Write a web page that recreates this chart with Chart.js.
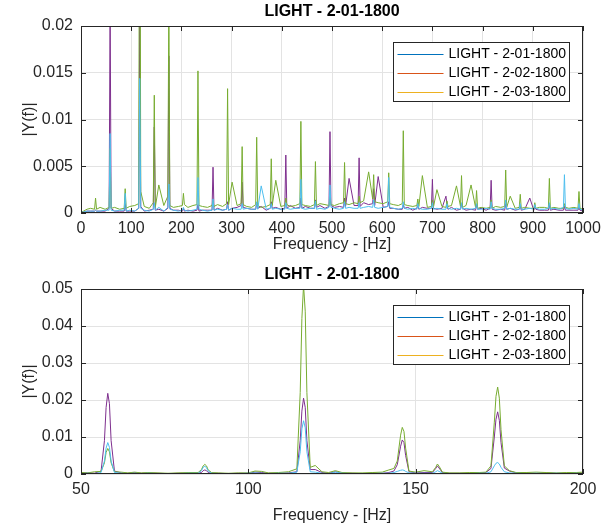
<!DOCTYPE html>
<html>
<head>
<meta charset="utf-8">
<script src="https://cdn.jsdelivr.net/npm/chart.js@4.4.1/dist/chart.umd.min.js"></script>
<style>
  body { margin: 0; background: #fff; }
  canvas { display: block; }
</style>
</head>
<body>
<canvas id="fullSpectrum" width="608" height="263"></canvas>
<canvas id="zoomSpectrum" width="608" height="264"></canvas>
<script>
// spectra of the three LIGHT recordings, 0 - 1000 Hz
const freqTop = [
  0, 5, 12, 19,
  27, 29, 31, 38, 48,  56, 58, 60, 67, 77,  86, 88, 90, 97, 107,
  115, 117, 119, 126, 136,  144, 146, 148, 155, 165,  173, 175, 177, 184, 194,
  202, 204, 206, 213, 223,  231, 233, 235, 242, 252,  261, 263, 265, 272, 282,
  290, 292, 294, 301, 311,  319, 321, 323, 330, 340,  348, 350, 352, 359, 369,
  377, 379, 381, 388, 398,  406, 408, 410, 417, 427,  436, 438, 440, 447, 457,
  465, 467, 469, 476, 486,  494, 496, 498, 505, 515,  523, 525, 527, 534, 544,
  552, 554, 556, 563, 573,  581, 583, 585, 592, 602,  611, 613, 615, 622, 632,
  640, 642, 644, 651, 661,  669, 671, 673, 680, 690,  698, 700, 702, 709, 719,
  727, 729, 731, 738, 748,  756, 758, 760, 767, 777,  786, 788, 790, 797, 807,
  815, 817, 819, 826, 836,  844, 846, 848, 855, 865,  873, 875, 877, 884, 894,
  902, 904, 906, 913, 923,  931, 933, 935, 942, 952,  961, 963, 965, 972, 982,
  990, 992, 994, 1000
];
const light01Top = [
  0.0001, 0.0001, 0.0002, 0.0002,
  0.0002, 0.0003, 0.0002, 0.0002, 0.0002,  0.0005, 0.022, 0.0005, 0.0002, 0.0002,  0.0002, 0.0010, 0.0002, 0.0002, 0.0002,
  0.0005, 0.0205, 0.0007, 0.0002, 0.0003,  0.0004, 0.0092, 0.0003, 0.0004, 0.0002,  0.0005, 0.0168, 0.0005, 0.0003, 0.0003,
  0.0002, 0.0005, 0.0002, 0.0003, 0.0002,  0.0003, 0.0009, 0.0002, 0.0003, 0.0003,  0.0003, 0.0049, 0.0003, 0.0005, 0.0003,
  0.0004, 0.0012, 0.0003, 0.0005, 0.0006,  0.0008, 0.0033, 0.0006, 0.0005, 0.0004,  0.0004, 0.0011, 0.0005, 0.0007, 0.0003,
  0.0005, 0.0012, 0.0005, 0.0006, 0.0004,  0.0005, 0.0062, 0.0005, 0.0008, 0.0005,  0.0006, 0.0016, 0.0005, 0.0007, 0.0005,
  0.0005, 0.0014, 0.0006, 0.0008, 0.0005,  0.0007, 0.0087, 0.0008, 0.0006, 0.0007,  0.0006, 0.0016, 0.0007, 0.0037, 0.0008,
  0.0008, 0.0059, 0.0007, 0.0011, 0.0009,  0.0010, 0.0026, 0.0008, 0.0039, 0.0006,  0.0007, 0.0012, 0.0005, 0.0005, 0.0004,
  0.0004, 0.0009, 0.0005, 0.0006, 0.0003,  0.0005, 0.0010, 0.0004, 0.0006, 0.0005,  0.0005, 0.0036, 0.0005, 0.0004, 0.0005,
  0.0018, 0.0009, 0.0004, 0.0006, 0.0003,  0.0004, 0.0010, 0.0005, 0.0003, 0.0004,  0.0003, 0.0009, 0.0004, 0.0005, 0.0003,
  0.0005, 0.0035, 0.0004, 0.0003, 0.0004,  0.0003, 0.0010, 0.0004, 0.0005, 0.0003,  0.0004, 0.0008, 0.0003, 0.0004, 0.0016,
  0.0003, 0.0007, 0.0004, 0.0003, 0.0003,  0.0003, 0.0009, 0.0003, 0.0004, 0.0003,  0.0003, 0.0007, 0.0003, 0.0003, 0.0003,
  0.0003, 0.0006, 0.0003, 0.0002
];
const light02Top = [
  0.0001, 0.0002, 0.0004, 0.0005,
  0.0004, 0.0016, 0.0004, 0.0006, 0.0004,  0.0006, 0.0069, 0.0005, 0.0006, 0.0004,  0.0005, 0.0026, 0.0005, 0.0007, 0.0008,
  0.0010, 0.051, 0.0023, 0.0007, 0.0005,  0.0011, 0.0126, 0.0006, 0.0030, 0.0008,  0.0018, 0.0235, 0.0008, 0.0006, 0.0007,
  0.0008, 0.0021, 0.0009, 0.0006, 0.0008,  0.0009, 0.0152, 0.0008, 0.0007, 0.0006,  0.0008, 0.0013, 0.0007, 0.0009, 0.0007,
  0.0010, 0.0133, 0.0009, 0.0033, 0.0008,  0.0010, 0.0071, 0.0009, 0.0007, 0.0006,  0.0009, 0.0081, 0.0008, 0.0006, 0.0007,
  0.0009, 0.0058, 0.0008, 0.0035, 0.0007,  0.0008, 0.0016, 0.0009, 0.0007, 0.0008,  0.0010, 0.0098, 0.0009, 0.0008, 0.0007,
  0.0009, 0.0055, 0.0008, 0.0010, 0.0009,  0.0008, 0.0017, 0.0009, 0.0008, 0.0010,  0.0011, 0.0054, 0.0010, 0.0009, 0.0011,
  0.0010, 0.0018, 0.0011, 0.0013, 0.0044,  0.0015, 0.0041, 0.0012, 0.0011, 0.0010,  0.0012, 0.0043, 0.0010, 0.0009, 0.0008,
  0.0010, 0.0088, 0.0009, 0.0008, 0.0007,  0.0008, 0.0015, 0.0007, 0.0040, 0.0006,  0.0007, 0.0014, 0.0006, 0.0025, 0.0007,
  0.0006, 0.0013, 0.0007, 0.0008, 0.0029,  0.0007, 0.0040, 0.0006, 0.0008, 0.0030,  0.0006, 0.0024, 0.0005, 0.0006, 0.0005,
  0.0006, 0.0014, 0.0005, 0.0007, 0.0006,  0.0007, 0.0046, 0.0006, 0.0018, 0.0005,  0.0006, 0.0020, 0.0005, 0.0006, 0.0005,
  0.0005, 0.0011, 0.0005, 0.0006, 0.0006,  0.0005, 0.0037, 0.0005, 0.0006, 0.0005,  0.0005, 0.0010, 0.0006, 0.0005, 0.0006,
  0.0005, 0.0023, 0.0005, 0.0004
];
const light03Top = [
  0.0001, 0.0001, 0.0002, 0.0002,
  0.0002, 0.0003, 0.0002, 0.0002, 0.0003,  0.0003, 0.0085, 0.0003, 0.0002, 0.0003,  0.0003, 0.0021, 0.0002, 0.0003, 0.0002,
  0.0005, 0.0144, 0.0005, 0.0003, 0.0002,  0.0004, 0.0011, 0.0003, 0.0006, 0.0002,  0.0006, 0.0031, 0.0004, 0.0003, 0.0002,
  0.0003, 0.0006, 0.0003, 0.0002, 0.0003,  0.0004, 0.0038, 0.0004, 0.0003, 0.0002,  0.0003, 0.0015, 0.0003, 0.0004, 0.0003,
  0.0004, 0.0009, 0.0003, 0.0005, 0.0004,  0.0004, 0.0010, 0.0004, 0.0005, 0.0004,  0.0004, 0.0012, 0.0004, 0.0029, 0.0004,
  0.0005, 0.0010, 0.0004, 0.0005, 0.0004,  0.0004, 0.0011, 0.0005, 0.0004, 0.0005,  0.0005, 0.0036, 0.0005, 0.0004, 0.0005,
  0.0005, 0.0013, 0.0004, 0.0005, 0.0004,  0.0006, 0.0030, 0.0006, 0.0005, 0.0004,  0.0005, 0.0012, 0.0005, 0.0006, 0.0005,
  0.0005, 0.0011, 0.0005, 0.0006, 0.0007,  0.0006, 0.0014, 0.0006, 0.0005, 0.0006,  0.0007, 0.0038, 0.0006, 0.0005, 0.0004,
  0.0005, 0.0012, 0.0005, 0.0004, 0.0005,  0.0004, 0.0010, 0.0005, 0.0004, 0.0004,  0.0005, 0.0011, 0.0004, 0.0005, 0.0004,
  0.0004, 0.0010, 0.0005, 0.0004, 0.0005,  0.0004, 0.0011, 0.0004, 0.0005, 0.0004,  0.0005, 0.0010, 0.0004, 0.0004, 0.0005,
  0.0004, 0.0012, 0.0005, 0.0004, 0.0004,  0.0005, 0.0014, 0.0004, 0.0005, 0.0004,  0.0004, 0.0010, 0.0004, 0.0004, 0.0005,
  0.0004, 0.0009, 0.0005, 0.0004, 0.0004,  0.0005, 0.0011, 0.0004, 0.0005, 0.0004,  0.0006, 0.0041, 0.0005, 0.0004, 0.0005,
  0.0004, 0.0010, 0.0004, 0.0003
];

// same recordings, 50 - 200 Hz
const freqZoom = [
  50, 52, 54, 56, 57, 57.5, 58, 58.5, 59, 60, 62, 64, 66, 68, 70, 73, 76, 79, 82, 85,
  86, 86.5, 87, 87.5, 88, 89, 91, 94, 97, 100, 102, 104, 106, 109, 112,
  114.5, 115.5, 116, 116.5, 117, 117.5, 118.5, 120, 122, 124, 126, 128, 131, 134, 137, 140, 142,
  143.5, 144.5, 145.5, 146, 146.5, 147, 148, 150, 152.5, 155, 156, 156.5, 157, 158, 160, 163, 166, 169, 171,
  172.5, 173.5, 174, 174.5, 175, 175.5, 176.5, 178, 180, 183, 186, 189, 192, 195, 198, 200
];
const light01Zoom = [
  0.0002, 0.0003, 0.0002, 0.0008, 0.009, 0.018, 0.0218, 0.019, 0.009, 0.0008, 0.0003, 0.0002, 0.0004, 0.0002, 0.0003, 0.0002, 0.0001, 0.0002, 0.0002, 0.0002,
  0.0004, 0.0009, 0.0011, 0.0009, 0.0004, 0.0002, 0.0002, 0.0001, 0.0002, 0.0002, 0.0005, 0.0004, 0.0002, 0.0002, 0.0003,
  0.0006, 0.009, 0.017, 0.0205, 0.018, 0.009, 0.0012, 0.0012, 0.0004, 0.0002, 0.0006, 0.0002, 0.0002, 0.0001, 0.0002, 0.0002, 0.0004,
  0.0008, 0.0025, 0.0075, 0.0092, 0.0085, 0.005, 0.0006, 0.0003, 0.0004, 0.0004, 0.0015, 0.0022, 0.0016, 0.0004, 0.0002, 0.0002, 0.0002, 0.0003, 0.0004,
  0.0015, 0.010, 0.0148, 0.0168, 0.0145, 0.0085, 0.0016, 0.0008, 0.0003, 0.0002, 0.0002, 0.0003, 0.0002, 0.0002, 0.0003, 0.0002
];
const light02Zoom = [
  0.0004, 0.0003, 0.0006, 0.0007, 0.003, 0.0058, 0.0069, 0.006, 0.003, 0.0006, 0.0005, 0.0003, 0.0005, 0.0003, 0.0004, 0.0003, 0.0002, 0.0003, 0.0004, 0.0004,
  0.0012, 0.0022, 0.0026, 0.0022, 0.0011, 0.0004, 0.0003, 0.0002, 0.0003, 0.0003, 0.0008, 0.0007, 0.0003, 0.0004, 0.0006,
  0.0014, 0.022, 0.042, 0.051, 0.044, 0.022, 0.0018, 0.0023, 0.0006, 0.0004, 0.0009, 0.0004, 0.0003, 0.0003, 0.0004, 0.0005, 0.0011,
  0.0015, 0.0035, 0.0105, 0.0126, 0.0115, 0.007, 0.0008, 0.0005, 0.0009, 0.0006, 0.0018, 0.0027, 0.0021, 0.0005, 0.0003, 0.0003, 0.0004, 0.0004, 0.0005,
  0.0022, 0.014, 0.021, 0.0235, 0.0205, 0.012, 0.0022, 0.0009, 0.0004, 0.0004, 0.0005, 0.0004, 0.0003, 0.0004, 0.0004, 0.0005
];
const light03Zoom = [
  0.0001, 0.0002, 0.0001, 0.0004, 0.0035, 0.007, 0.0085, 0.0072, 0.0035, 0.0004, 0.0002, 0.0001, 0.0002, 0.0001, 0.0002, 0.0001, 0.0001, 0.0001, 0.0002, 0.0002,
  0.0009, 0.0018, 0.0021, 0.0017, 0.0008, 0.0002, 0.0001, 0.0001, 0.0001, 0.0002, 0.0003, 0.0002, 0.0001, 0.0002, 0.0002,
  0.0005, 0.006, 0.0122, 0.0144, 0.0125, 0.006, 0.0006, 0.0005, 0.0002, 0.0001, 0.0005, 0.0002, 0.0001, 0.0001, 0.0001, 0.0002, 0.0002,
  0.0004, 0.0007, 0.001, 0.0011, 0.001, 0.0007, 0.0003, 0.0002, 0.0002, 0.0002, 0.0006, 0.0009, 0.0007, 0.0002, 0.0001, 0.0001, 0.0001, 0.0002, 0.0002,
  0.0006, 0.0022, 0.0029, 0.0031, 0.0027, 0.0018, 0.0006, 0.0003, 0.0002, 0.0001, 0.0002, 0.0001, 0.0002, 0.0001, 0.0002, 0.0001
];

const seriesNames = ['LIGHT - 2-01-1800', 'LIGHT - 2-02-1800', 'LIGHT - 2-03-1800'];
const lineColors = ['#7E2F8E', '#77AC30', '#4DBEEE'];
const legendColors = ['#0072BD', '#D95319', '#EDB120'];
const plotTitle = 'LIGHT - 2-01-1800';

const FONT = '"Liberation Sans", Arial, Helvetica, sans-serif';
const AXIS_COLOR = '#262626';

// box, inward tick marks, title and legend in the matlab figure look
const figureFrame = {
  id: 'figureFrame',
  afterDatasetsDraw(chart) {
    const { ctx, chartArea: a, scales } = chart;
    ctx.save();
    ctx.setLineDash([]);
    ctx.strokeStyle = AXIS_COLOR;
    ctx.lineWidth = 1;
    ctx.strokeRect(Math.round(a.left) + 0.5, Math.round(a.top) + 0.5,
      Math.round(a.right - a.left) - 1, Math.round(a.bottom - a.top) - 1);
    ctx.beginPath();
    scales.x.ticks.forEach(t => {
      const px = Math.round(scales.x.getPixelForValue(t.value)) + 0.5;
      ctx.moveTo(px, a.bottom); ctx.lineTo(px, a.bottom - 5);
      ctx.moveTo(px, a.top); ctx.lineTo(px, a.top + 5);
    });
    scales.y.ticks.forEach(t => {
      const py = Math.round(scales.y.getPixelForValue(t.value)) + 0.5;
      ctx.moveTo(a.left, py); ctx.lineTo(a.left + 5, py);
      ctx.moveTo(a.right, py); ctx.lineTo(a.right - 5, py);
    });
    ctx.stroke();

    // title
    ctx.fillStyle = '#000';
    ctx.font = 'bold 16px ' + FONT;
    ctx.textAlign = 'center';
    ctx.textBaseline = 'middle';
    ctx.fillText(plotTitle, (a.left + a.right) / 2, 12);

    // legend
    ctx.font = '14px ' + FONT;
    ctx.textAlign = 'left';
    const textW = Math.max(...seriesNames.map(n => ctx.measureText(n).width));
    const bx = 393.5, by = Math.round(a.top + 16) + 0.5;
    const bw = Math.round(55 + textW + 4), bh = 59;
    ctx.fillStyle = '#fff';
    ctx.fillRect(bx, by, bw, bh);
    ctx.strokeStyle = AXIS_COLOR;
    ctx.strokeRect(bx, by, bw, bh);
    seriesNames.forEach((name, i) => {
      const ry = by + 12 + i * 19;
      ctx.beginPath();
      ctx.strokeStyle = legendColors[i];
      ctx.lineWidth = 1;
      ctx.moveTo(bx + 4, ry);
      ctx.lineTo(bx + 50, ry);
      ctx.stroke();
      ctx.fillStyle = '#000';
      ctx.fillText(name, bx + 55, ry);
    });
    ctx.restore();
  }
};

function makeSpectrum(canvasId, freq, series, xRange, yRange, axisHeight, xTitlePad) {
  const datasets = series.map((vals, i) => ({
    label: seriesNames[i],
    data: freq.map((f, k) => ({ x: f, y: vals[k] })),
    borderColor: lineColors[i],
    borderWidth: 1,
    pointRadius: 0,
    tension: 0,
    order: 3 - i
  }));
  return new Chart(document.getElementById(canvasId), {
    type: 'line',
    data: { datasets },
    plugins: [figureFrame],
    options: {
      responsive: false,
      animation: false,
      devicePixelRatio: 1,
      layout: { padding: { left: 0, right: 25, top: 26, bottom: 0 } },
      plugins: { legend: { display: false }, tooltip: { enabled: false } },
      scales: {
        x: {
          type: 'linear',
          min: xRange[0], max: xRange[1],
          ticks: { stepSize: xRange[2], color: AXIS_COLOR, font: { family: FONT, size: 16 }, padding: 6, maxRotation: 0,
            callback: v => String(v) },
          grid: { color: '#e3e3e3', drawTicks: false },
          border: { display: false },
          title: { display: true, text: 'Frequency - [Hz]', color: AXIS_COLOR,
            font: { family: FONT, size: 16 }, padding: { top: 0, bottom: xTitlePad } },
          afterFit(scale) { scale.height = axisHeight; }
        },
        y: {
          min: yRange[0], max: yRange[1],
          ticks: { stepSize: yRange[2], color: AXIS_COLOR, font: { family: FONT, size: 16 }, padding: 8,
            callback: v => String(+v.toFixed(4)) },
          grid: { color: '#e3e3e3', drawTicks: false },
          border: { display: false },
          title: { display: true, text: '|Y(f)|', color: AXIS_COLOR,
            font: { family: FONT, size: 16 }, padding: { top: 20, bottom: 0 } },
          afterFit(scale) { scale.width = 81; }
        }
      }
    }
  });
}

makeSpectrum('fullSpectrum', freqTop, [light01Top, light02Top, light03Top],
  [0, 1000, 100], [0, 0.02, 0.005], 50, 9);
makeSpectrum('zoomSpectrum', freqZoom, [light01Zoom, light02Zoom, light03Zoom],
  [50, 200, 50], [0, 0.05, 0.01], 53, 2);
</script>
</body>
</html>
